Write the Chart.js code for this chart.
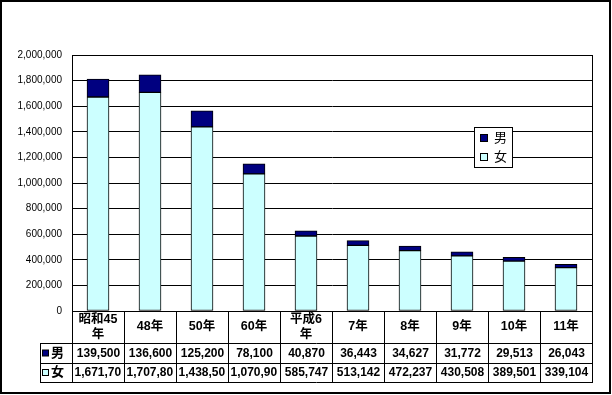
<!DOCTYPE html>
<html>
<head>
<meta charset="utf-8">
<script src="https://cdn.jsdelivr.net/npm/chart.js@4/dist/chart.umd.min.js"></script>
<style>
  html, body { margin: 0; padding: 0; background: #fff; }
  canvas { display: block; }
</style>
</head>
<body>
<canvas id="chart" width="612" height="395"></canvas>
<script>
// categories (two-line labels as arrays)
const categories = [
  ["昭和45", "年"], ["48年"], ["50年"], ["60年"], ["平成6", "年"],
  ["7年"], ["8年"], ["9年"], ["10年"], ["11年"]
];
const maleValues   = [139500, 136600, 125200, 78100, 40870, 36443, 34627, 31772, 29513, 26043];
const femaleValues = [1671700, 1707800, 1438500, 1070900, 585747, 513142, 472237, 430508, 389501, 339104];
const seriesNames = { male: "男", female: "女" };
const colors = { male: "#000080", female: "#CCFFFF" };

const JP = '"Liberation Sans", "Noto Sans CJK JP", sans-serif';

function fmt(v) {
  return v.toLocaleString("en-US");
}

const tablePlugin = {
  id: "dataTable",
  afterDraw(chart) {
    const ctx = chart.ctx;
    const area = chart.chartArea;
    const xs = chart.scales.x;
    const n = categories.length;
    const colW = (area.right - area.left) / n;
    const top = area.bottom;
    const rowCat = 32, rowVal = 19.5;
    const yMale = top + rowCat, yFemale = yMale + rowVal, yEnd = yFemale + rowVal;
    const legendLeft = 40;

    ctx.save();
    ctx.strokeStyle = "#000";
    ctx.lineWidth = 1;

    // plot border
    ctx.strokeRect(Math.round(area.left) + 0.5, Math.round(area.top) + 0.5,
      Math.round(area.right - area.left), Math.round(area.bottom - area.top));

    // table lines
    ctx.beginPath();
    for (let i = 0; i <= n; i++) {
      const x = Math.round(area.left + i * colW) + 0.5;
      ctx.moveTo(x, top);
      ctx.lineTo(x, yEnd);
    }
    ctx.moveTo(legendLeft + 0.5, yMale);
    ctx.lineTo(legendLeft + 0.5, yEnd);
    [yMale, yFemale, yEnd].forEach(y => {
      const yy = Math.round(y) + 0.5;
      ctx.moveTo(legendLeft, yy);
      ctx.lineTo(area.right + 1, yy);
    });
    ctx.stroke();

    // category labels
    ctx.fillStyle = "#000";
    ctx.textAlign = "center";
    ctx.textBaseline = "middle";
    ctx.font = "bold 12.5px " + JP;
    categories.forEach((lines, i) => {
      const cx = xs.getPixelForValue(i);
      const cy = top + rowCat / 2;
      if (lines.length === 1) {
        ctx.fillText(lines[0], cx, cy);
      } else {
        ctx.fillText(lines[0], cx, cy - 7);
        ctx.fillText(lines[1], cx, cy + 8);
      }
    });

    // value rows; values too wide for a cell lose their trailing characters
    ctx.font = "bold 12px " + JP;
    const rows = [
      { y: yMale, vals: maleValues },
      { y: yFemale, vals: femaleValues }
    ];
    rows.forEach(r => {
      r.vals.forEach((v, i) => {
        const left = area.left + i * colW;
        let txt = fmt(v);
        if (ctx.measureText(txt).width > colW - 3) {
          while (txt.length > 1 && ctx.measureText(txt).width > colW - 4) txt = txt.slice(0, -1);
          ctx.textAlign = "left";
          ctx.fillText(txt, left + 2.5, r.y + rowVal / 2 + 0.5);
        } else {
          ctx.textAlign = "center";
          ctx.fillText(txt, left + colW / 2 + 0.5, r.y + rowVal / 2 + 0.5);
        }
      });
    });

    // row legend keys
    ctx.textAlign = "left";
    ctx.font = "bold 13px " + JP;
    [[yMale, colors.male, seriesNames.male], [yFemale, colors.female, seriesNames.female]].forEach(([y, c, name]) => {
      ctx.fillStyle = c;
      ctx.fillRect(42.5, y + 7, 6, 6);
      ctx.strokeRect(42.5, y + 7, 6, 6);
      ctx.fillStyle = "#000";
      ctx.fillText(name, 51, y + rowVal / 2 + 0.5);
    });

    // floating legend
    const lx = 474, ly = 127, lw = 38, lh = 40;
    ctx.fillStyle = "#fff";
    ctx.fillRect(lx, ly, lw, lh);
    ctx.strokeRect(lx + 0.5, ly + 0.5, lw, lh);
    ctx.font = "13px " + JP;
    [[ly + 11, colors.male, seriesNames.male], [ly + 30, colors.female, seriesNames.female]].forEach(([y, c, name]) => {
      ctx.fillStyle = c;
      ctx.fillRect(480.5, y - 3.5, 7, 7);
      ctx.strokeRect(480.5, y - 3.5, 7, 7);
      ctx.fillStyle = "#000";
      ctx.fillText(name, 494, y + 0.5);
    });

    // outer frame
    ctx.lineWidth = 2;
    ctx.strokeRect(1, 1, 609, 392);
    ctx.restore();
  }
};

const barStyle = {
  borderColor: "#000",
  borderWidth: 1,
  borderSkipped: false,
  barThickness: 22
};

new Chart(document.getElementById("chart").getContext("2d"), {
  type: "bar",
  data: {
    labels: categories.map(c => c.join("")),
    datasets: [
      Object.assign({ label: seriesNames.female, data: femaleValues, backgroundColor: colors.female }, barStyle),
      Object.assign({ label: seriesNames.male, data: maleValues, backgroundColor: colors.male }, barStyle)
    ]
  },
  options: {
    responsive: false,
    animation: false,
    layout: {
      autoPadding: false,
      padding: { top: 55, right: 20, bottom: 84, left: 0 }
    },
    plugins: {
      legend: { display: false },
      tooltip: { enabled: false }
    },
    scales: {
      x: {
        stacked: true,
        display: false
      },
      y: {
        stacked: true,
        min: 0,
        max: 2000000,
        afterFit(s) { s.width = 72; },
        ticks: {
          stepSize: 200000,
          padding: 10,
          color: "#000",
          font: { family: '"Liberation Sans", Arial, sans-serif', size: 10 },
          callback: v => fmt(v)
        },
        grid: { color: "#000", lineWidth: 1, drawTicks: false },
        border: { display: true, color: "#000" }
      }
    }
  },
  plugins: [tablePlugin]
});
</script>
</body>
</html>
